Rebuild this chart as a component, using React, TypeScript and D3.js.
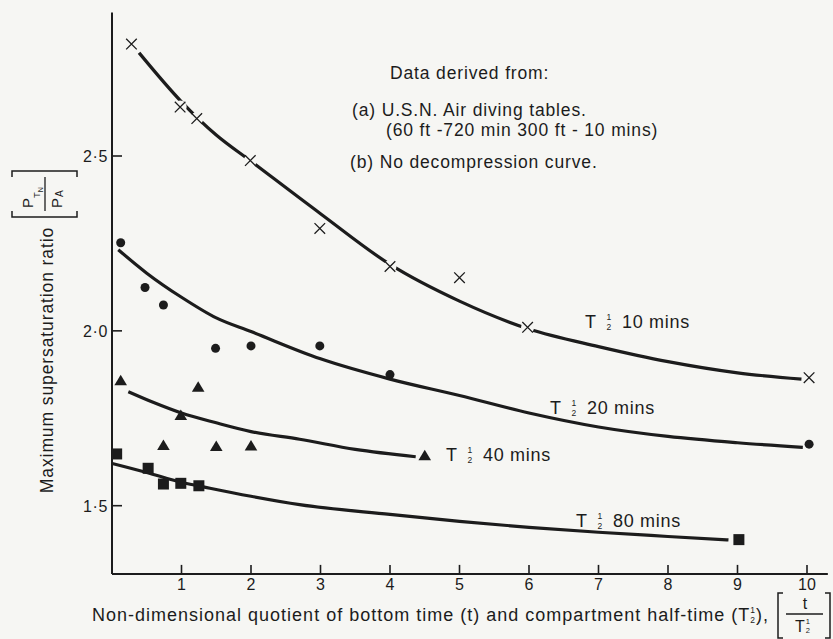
import React from "react";
import * as d3 from "d3";

// ---------- data ----------
const xTicks = [1, 2, 3, 4, 5, 6, 7, 8, 9, 10];
const yTicks = [1.5, 2.0, 2.5];

// markers
const crossPts: [number, number][] = [
  [0.28, 2.82], [0.98, 2.64], [1.22, 2.607], [1.99, 2.487], [2.99, 2.293],
  [4.0, 2.184], [5.0, 2.152], [5.98, 2.01], [10.03, 1.866],
];
const circlePts: [number, number][] = [
  [0.125, 2.252], [0.475, 2.124], [0.74, 2.074], [1.49, 1.95], [2.0, 1.957],
  [2.99, 1.957], [4.0, 1.875], [10.03, 1.676],
];
const trianglePts: [number, number][] = [
  [0.125, 1.857], [0.74, 1.672], [0.99, 1.758], [1.24, 1.839], [1.5, 1.669],
  [2.0, 1.671], [4.5, 1.643],
];
const squarePts: [number, number][] = [
  [0.067, 1.648], [0.52, 1.607], [0.74, 1.562], [0.99, 1.564], [1.25, 1.557],
  [9.02, 1.403],
];

// fitted curves (as drawn)
const curve10: [number, number][] = [
  [0.39, 2.795], [1, 2.655], [1.5, 2.56], [2, 2.485], [3, 2.335], [4, 2.19],
  [5, 2.085], [6, 2.005], [7, 1.955], [8, 1.912], [9, 1.88], [9.92, 1.862],
];
const curve20: [number, number][] = [
  [0.09, 2.232], [0.5, 2.165], [1, 2.096], [1.5, 2.037], [2, 1.998], [3, 1.92],
  [4, 1.862], [5, 1.815], [6, 1.765], [7, 1.725], [8, 1.698], [9, 1.68], [9.94, 1.667],
];
const curve40: [number, number][] = [
  [0.235, 1.826], [0.6, 1.795], [1, 1.765], [1.5, 1.737], [2, 1.712],
  [2.7, 1.69], [3.5, 1.661], [4.37, 1.64],
];
const curve80: [number, number][] = [
  [0, 1.621], [0.5, 1.595], [1, 1.567], [1.41, 1.55], [2, 1.527], [2.7, 1.503],
  [4, 1.475], [5, 1.455], [6, 1.438], [7, 1.424], [8, 1.412], [8.87, 1.402],
];

const seriesNames = ["10", "20", "40", "80"];
const noteLines = [
  "Data derived from:",
  "(a) U.S.N. Air diving tables.",
  "(60 ft -720 min 300 ft - 10 mins)",
  "(b) No decompression curve.",
];
const yLabel = "Maximum supersaturation ratio";
const xLabelMain = "Non-dimensional quotient of bottom time (t) and compartment half-time (T";

// ---------- layout ----------
const W = 833;
const H = 639;
const FONT = "'Liberation Sans', Arial, Helvetica, sans-serif";
const INK = "#1c1c1c";
const BG = "#f6f6f3";

const x = d3.scaleLinear().domain([0, 10]).range([112, 807]);
const y = d3.scaleLinear().domain([1.5, 2.5]).range([505.7, 156]);
const X_END = 10.3;
const Y_BOTTOM = 1.305;
const Y_TOP = 2.91;

const line = d3
  .line<[number, number]>()
  .x((d) => x(d[0]))
  .y((d) => y(d[1]))
  .curve(d3.curveMonotoneX);

const fmt = (v: number) => v.toFixed(1).replace(".", "\u00b7");

// "T ½ NN mins" as a single text element
function SeriesLabel({ x0, base, name }: { x0: number; base: number; name: string }) {
  return (
    <text x={x0} y={base} fill={INK} fontSize={18} letterSpacing={0.7}>
      T
      <tspan x={x0 + 21.5} y={base - 8.5} fontSize={8.5} letterSpacing={0}>1</tspan>
      <tspan x={x0 + 21.5} y={base + 1.5} fontSize={8.5} letterSpacing={0}>2</tspan>
      <tspan x={x0 + 37} y={base}>{name + " mins"}</tspan>
    </text>
  );
}

export default function App() {
  const y0 = y(Y_BOTTOM);
  const seriesLabelPos = [
    { x0: 585, base: 328 },
    { x0: 550, base: 414 },
    { x0: 446, base: 461 },
    { x0: 576, base: 527 },
  ];
  const noteY = [79, 116, 135.5, 168];
  const noteX = [390, 352, 386, 350];

  return (
    <div style={{ position: "absolute", left: 0, top: 0 }}>
      <svg width={W} height={H} style={{ display: "block", fontFamily: FONT }}>
        <rect width={W} height={H} fill={BG} />

        {/* axes */}
        <line x1={x(0)} x2={x(0)} y1={y(Y_TOP)} y2={y0} stroke={INK} strokeWidth={2} />
        <line x1={x(0)} x2={x(X_END)} y1={y0} y2={y0} stroke={INK} strokeWidth={2} />

        {yTicks.map((t) => (
          <g key={t}>
            <line x1={x(0)} x2={x(0) + 10} y1={y(t)} y2={y(t)} stroke={INK} strokeWidth={1.6} />
            <text x={x(0) - 4} y={y(t) + 6} fontSize={16} letterSpacing={0.6} textAnchor="end" fill={INK}>
              {fmt(t)}
            </text>
          </g>
        ))}
        {xTicks.map((t) => (
          <g key={t}>
            <line x1={x(t)} x2={x(t)} y1={y0} y2={y0 - 9} stroke={INK} strokeWidth={1.6} />
            <text x={x(t)} y={590} fontSize={16} textAnchor="middle" fill={INK}>
              {t}
            </text>
          </g>
        ))}

        {/* curves */}
        {[curve10, curve20, curve40, curve80].map((c, i) => (
          <path key={i} d={line(c) || ""} fill="none" stroke={INK} strokeWidth={3.2} strokeLinecap="butt" />
        ))}

        {/* markers */}
        {crossPts.map((p, i) => (
          <g key={"c" + i} transform={`translate(${x(p[0])},${y(p[1])})`}>
            <circle r={6.5} fill={BG} />
            <path d="M-5.3,-5.3L5.3,5.3M-5.3,5.3L5.3,-5.3" stroke={INK} strokeWidth={1.3} />
          </g>
        ))}
        {circlePts.map((p, i) => (
          <circle key={"o" + i} cx={x(p[0])} cy={y(p[1])} r={4.5} fill={INK} />
        ))}
        {trianglePts.map((p, i) => (
          <path
            key={"t" + i}
            transform={`translate(${x(p[0])},${y(p[1])})`}
            d="M0,-6L6.3,4.5L-6.3,4.5Z"
            fill={INK}
          />
        ))}
        {squarePts.map((p, i) => (
          <rect key={"s" + i} x={x(p[0]) - 5.5} y={y(p[1]) - 5.5} width={11} height={11} fill={INK} />
        ))}

        {/* series labels */}
        {seriesNames.map((n, i) => (
          <SeriesLabel key={n} x0={seriesLabelPos[i].x0} base={seriesLabelPos[i].base} name={n} />
        ))}

        {/* note */}
        <g fill={INK} fontSize={17.5} letterSpacing={0.85}>
          {noteLines.map((s, i) => (
            <text key={i} x={noteX[i]} y={noteY[i]}>
              {s}
            </text>
          ))}
        </g>

        {/* y axis label */}
        <g fill={INK} transform="rotate(-90)">
          <text x={-360} y={53} fontSize={17.5} letterSpacing={0.9} textAnchor="middle">
            {yLabel}
          </text>
          <text x={-208} y={33} fontSize={15}>
            P
            <tspan fontSize={9.5} dy={6.5}>T</tspan>
            <tspan fontSize={7} dy={3.5}>N</tspan>
          </text>
          <line x1={-211} x2={-177} y1={45} y2={45} stroke={INK} strokeWidth={1.3} />
          <text x={-208} y={62} fontSize={15}>
            P<tspan fontSize={10} dx={1} dy={1}>A</tspan>
          </text>
        </g>
        <path d="M12,177V171H77V177M12,211V217H77V211" fill="none" stroke={INK} strokeWidth={1.5} />

        {/* x axis label */}
        <text x={92} y={621} fontSize={18} letterSpacing={1} fill={INK}>
          <tspan>{xLabelMain}</tspan>
          <tspan fontSize={8.5} dy={-8.5}>1</tspan>
          <tspan fontSize={8.5} dx={-5.7} dy={10}>2</tspan>
          <tspan dy={-1.5}>),</tspan>
        </text>
        <path d="M783,593H778V638H783M825,593H830V638H825" fill="none" stroke={INK} strokeWidth={1.5} />
        <text x={805} y={609} fontSize={16} textAnchor="middle" fill={INK}>t</text>
        <line x1={786} x2={823} y1={614} y2={614} stroke={INK} strokeWidth={1.3} />
        <text x={795} y={632} fontSize={16} fill={INK}>
          T
          <tspan fontSize={7.5} dx={1} dy={-8}>1</tspan>
          <tspan fontSize={7.5} dx={-4.2} dy={9}>2</tspan>
        </text>
      </svg>
    </div>
  );
}
